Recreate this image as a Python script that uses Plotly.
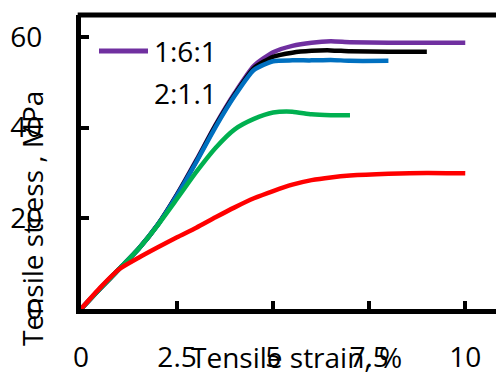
import plotly.graph_objects as go

# ---- data ----
strain_161 = [0, 0.5, 1.0, 1.5, 2.0, 2.5, 3.0, 3.5, 4.0, 4.5, 5.0, 5.5, 6.0, 6.5, 7.0, 8.0, 9.0, 10.0]
stress_161 = [0, 4.5, 8.9, 13.3, 18.6, 25.3, 32.8, 40.6, 47.6, 53.6, 56.6, 58.0, 58.7, 59.0, 58.8, 58.7, 58.7, 58.7]

strain_blk = [0, 0.5, 1.0, 1.5, 2.0, 2.5, 3.0, 3.5, 4.0, 4.5, 5.0, 5.5, 6.0, 6.5, 7.0, 8.0, 9.0]
stress_blk = [0, 4.5, 8.9, 13.3, 18.6, 25.2, 32.6, 40.4, 47.3, 53.1, 55.6, 56.5, 56.9, 57.0, 56.8, 56.7, 56.7]

strain_blu = [0, 0.5, 1.0, 1.5, 2.0, 2.5, 3.0, 3.5, 4.0, 4.5, 5.0, 5.5, 6.0, 6.5, 7.0, 8.0]
stress_blu = [0, 4.5, 8.9, 13.3, 18.6, 25.1, 32.4, 40.1, 47.0, 52.7, 54.6, 54.8, 54.8, 54.9, 54.7, 54.7]

strain_grn = [0, 0.5, 1.0, 1.5, 2.0, 2.5, 3.0, 3.5, 4.0, 4.5, 5.0, 5.5, 6.0, 6.5, 7.0]
stress_grn = [0, 4.5, 8.9, 13.3, 18.5, 24.3, 30.2, 35.5, 39.6, 41.9, 43.3, 43.5, 42.9, 42.7, 42.7]

strain_red = [0, 0.5, 1.0, 1.5, 2.0, 2.5, 3.0, 3.5, 4.0, 4.5, 5.0, 5.5, 6.0, 6.5, 7.0, 8.0, 9.0, 10.0]
stress_red = [0, 4.7, 8.8, 11.3, 13.6, 15.8, 17.9, 20.2, 22.4, 24.4, 26.0, 27.4, 28.4, 29.0, 29.4, 29.8, 30.0, 29.9]

x_ticks = [0, 2.5, 5, 7.5, 10]
x_ticklabels = ["0", "2.5", "5", "7.5", "10"]
y_ticks = [0, 20, 40, 60]
y_ticklabels = ["0", "20", "40", "60"]

legend_labels = ["1:6:1", "2:1.1"]

FONT = "Open Sans"
FS = 28
LW = 4.5

fig = go.Figure()
series = [
    (strain_161, stress_161, "#7030A0"),
    (strain_blk, stress_blk, "#000000"),
    (strain_blu, stress_blu, "#0070C0"),
    (strain_grn, stress_grn, "#00B050"),
    (strain_red, stress_red, "#FF0000"),
]
for xs, ys, c in series:
    fig.add_trace(go.Scatter(x=xs, y=ys, mode="lines",
                             line=dict(color=c, width=LW, shape="spline", smoothing=0.6),
                             showlegend=False, hoverinfo="skip"))

W, H = 496, 373
ml, mr, mt, mb = 81, 0, 15, 64
pw, ph = W - ml - mr, H - mt - mb

def px2paper_x(px):
    return (px - ml) / pw

def px2paper_y(py):
    return (H - mb - py) / ph

fig.update_layout(
    width=W, height=H,
    margin=dict(l=ml, r=mr, t=mt, b=mb, pad=0, autoexpand=False),
    paper_bgcolor="white", plot_bgcolor="white",
    font=dict(family=FONT, size=FS, color="black"),
    xaxis=dict(range=[0, 10.8], tickvals=x_ticks, ticktext=x_ticklabels, automargin=False,
               showgrid=False, zeroline=False, showline=True, linecolor="black", linewidth=5,
               ticks="inside", ticklen=8, tickwidth=4, tickcolor="black",
               ticklabelstandoff=19, tickfont=dict(family=FONT, size=FS)),
    yaxis=dict(range=[0, 64.8], tickvals=y_ticks, ticktext=y_ticklabels, automargin=False,
               showgrid=False, zeroline=False, showline=True, linecolor="black", linewidth=5,
               ticks="inside", ticklen=8, tickwidth=4, tickcolor="black",
               ticklabelstandoff=28, tickfont=dict(family=FONT, size=FS)),
)

# top frame line
fig.add_shape(type="line", xref="paper", yref="paper", x0=-0.008, x1=1, y0=1, y1=1,
              line=dict(color="black", width=5))

# axis titles (overlapping tick labels as in the reference)
fig.add_annotation(text="Tensile strain, %", xref="paper", yref="paper",
                   x=px2paper_x(296), y=px2paper_y(357), xanchor="center", yanchor="middle",
                   showarrow=False, font=dict(family=FONT, size=FS))
fig.add_annotation(text="Tensile stress , MPa", xref="paper", yref="paper", textangle=-90,
                   x=px2paper_x(32), y=px2paper_y(219), xanchor="center", yanchor="middle",
                   showarrow=False, font=dict(family=FONT, size=FS))

# legend
fig.add_shape(type="line", xref="paper", yref="paper",
              x0=px2paper_x(99), x1=px2paper_x(148), y0=px2paper_y(51), y1=px2paper_y(51),
              line=dict(color="#7030A0", width=5))
fig.add_annotation(text=legend_labels[0], xref="paper", yref="paper",
                   x=px2paper_x(152), y=px2paper_y(51), xanchor="left", yanchor="middle",
                   showarrow=False, font=dict(family=FONT, size=FS))
fig.add_annotation(text=legend_labels[1], xref="paper", yref="paper",
                   x=px2paper_x(152), y=px2paper_y(93), xanchor="left", yanchor="middle",
                   showarrow=False, font=dict(family=FONT, size=FS))

fig.write_html("out.html")
